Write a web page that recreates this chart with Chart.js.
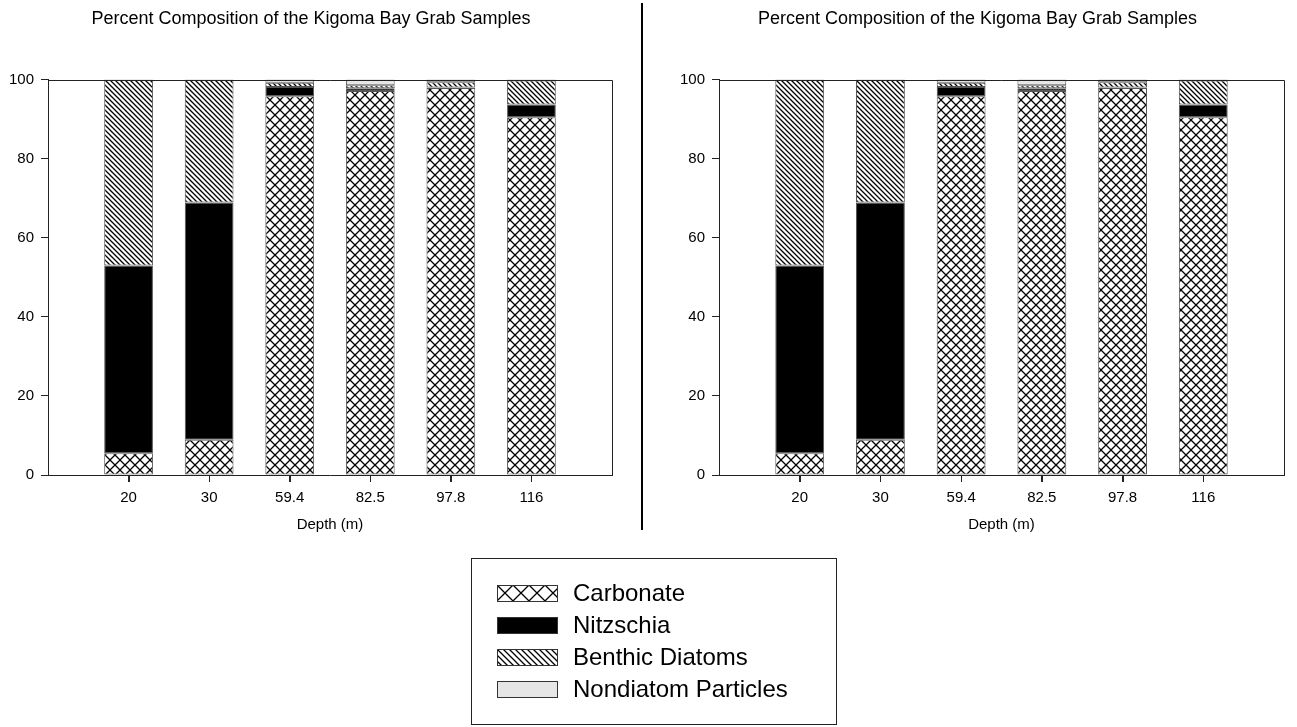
<!DOCTYPE html>
<html>
<head>
<meta charset="utf-8">
<script src="https://cdn.jsdelivr.net/npm/chart.js@4.4.1/dist/chart.umd.min.js"></script>
<style>
  body { margin: 0; background: #fff; width: 1297px; height: 727px; position: relative; overflow: hidden; font-family: 'Liberation Sans', Arial, sans-serif; }
  .panel { position: absolute; top: 0; }
  #divider { position: absolute; left: 641px; top: 3px; width: 2px; height: 527px; background: #000; }
  #legend { position: absolute; left: 471px; top: 558px; width: 364px; height: 165px; border: 1px solid #222; }
  .row { position: absolute; left: 25px; height: 24px; display: flex; align-items: center; }
  .row canvas { display: block; margin-right: 15px; }
  .row span { font-size: 24px; line-height: 24px; color: #000; white-space: nowrap; }
</style>
</head>
<body>
<canvas id="leftChart" class="panel" style="left:0px" width="622" height="540"></canvas>
<div id="divider"></div>
<canvas id="rightChart" class="panel" style="left:661px" width="633" height="540"></canvas>
<div id="legend"></div>

<script>
// Kigoma Bay grab samples, percent composition by depth
const depths = ['20', '30', '59.4', '82.5', '97.8', '116'];
const carbonate = [5.5, 8.9, 95.8, 97.1, 97.9, 90.5];
const nitzschia = [47.5, 60.0, 2.3, 0.7, 0.1, 3.2];
const benthic = [47.0, 31.1, 1.1, 0.8, 1.3, 6.1];
const nondiatom = [0, 0, 0.8, 1.4, 0.7, 0.2];
const seriesNames = ['Carbonate', 'Nitzschia', 'Benthic Diatoms', 'Nondiatom Particles'];
const yTicks = [0, 20, 40, 60, 80, 100];
const chartTitle = 'Percent Composition of the Kigoma Bay Grab Samples';

const family = "'Liberation Sans', Arial, sans-serif";

function makeTile(size, width, draw) {
    const c = document.createElement('canvas');
    c.width = c.height = size;
    const g = c.getContext('2d');
    g.fillStyle = '#fff';
    g.fillRect(0, 0, size, size);
    g.strokeStyle = '#000';
    g.lineWidth = width;
    g.beginPath();
    draw(g, size);
    g.stroke();
    return g.createPattern(c, 'repeat');
}

function cross(g, s) {
    g.moveTo(-1, -1); g.lineTo(s + 1, s + 1);
    g.moveTo(s + 1, -1); g.lineTo(-1, s + 1);
}
function hatch(g, s) {
    g.moveTo(-1, -1); g.lineTo(s + 1, s + 1);
    g.moveTo(-2, s - 2); g.lineTo(2, s + 2);
    g.moveTo(s - 2, -2); g.lineTo(s + 2, 2);
}

const fills = [makeTile(10, 1.3, cross), '#000', makeTile(5, 1.3, hatch), '#e6e6e6'];
const legendFills = [makeTile(16, 1.3, cross), '#000', makeTile(6, 1.3, hatch), '#e6e6e6'];

// top and right edges of the plot box, plus x tick marks under each bar
const frame = {
    id: 'frame',
    afterDraw(chart) {
        const { ctx, chartArea: a } = chart;
        const xs = chart.scales.x;
        ctx.save();
        ctx.strokeStyle = '#222';
        ctx.lineWidth = 1;
        ctx.beginPath();
        ctx.moveTo(a.left, Math.round(a.top) + 0.5);
        ctx.lineTo(Math.round(a.right) + 0.5, Math.round(a.top) + 0.5);
        ctx.lineTo(Math.round(a.right) + 0.5, a.bottom);
        xs.ticks.forEach((t, i) => {
            const px = Math.round(xs.getPixelForTick(i)) + 0.5;
            ctx.moveTo(px, a.bottom);
            ctx.lineTo(px, a.bottom + 7);
        });
        ctx.stroke();
        ctx.restore();
    }
};

function makeChart(id, axisWidth) {
    const series = [carbonate, nitzschia, benthic, nondiatom];
    const points = vals => vals.map((v, i) => ({ x: i + 1, y: v }));

    return new Chart(document.getElementById(id), {
        type: 'bar',
        data: {
            datasets: series.map((vals, i) => ({
                label: seriesNames[i],
                data: points(vals),
                backgroundColor: fills[i],
                borderColor: '#555',
                borderWidth: 1,
                borderSkipped: false,
                categoryPercentage: 0.605,
                barPercentage: 1
            }))
        },
        options: {
            responsive: false,
            animation: false,
            layout: { padding: { left: 10, right: 10, top: 0, bottom: 0 } },
            plugins: {
                legend: { display: false },
                tooltip: { enabled: false },
                title: {
                    display: true,
                    text: chartTitle,
                    color: '#000',
                    font: { family: family, size: 18, weight: 'normal' },
                    padding: { top: 8, bottom: 50 }
                }
            },
            scales: {
                x: {
                    type: 'linear',
                    stacked: true,
                    offset: false,
                    min: 0,
                    max: depths.length + 1,
                    afterBuildTicks: s => { s.ticks = depths.map((d, i) => ({ value: i + 1 })); },
                    grid: { offset: false, drawOnChartArea: false, tickLength: 7, color: '#222' },
                    border: { color: '#222' },
                    ticks: {
                        color: '#000',
                        font: { family: family, size: 15 },
                        padding: 7,
                        maxRotation: 0,
                        autoSkip: false,
                        callback: v => depths[v - 1]
                    },
                    title: {
                        display: true,
                        text: 'Depth (m)',
                        color: '#000',
                        font: { family: family, size: 15 },
                        padding: { top: 0, bottom: 6 }
                    },
                    afterFit: s => { s.height = 65; }
                },
                y: {
                    stacked: true,
                    min: 0,
                    max: 100,
                    afterBuildTicks: s => { s.ticks = yTicks.map(v => ({ value: v })); },
                    ticks: { color: '#000', font: { family: family, size: 15 }, padding: 7 },
                    grid: { drawOnChartArea: false, tickLength: 7, color: '#222' },
                    border: { color: '#222' },
                    afterFit: s => { s.width = axisWidth; }
                }
            }
        },
        plugins: [frame]
    });
}

function buildLegend() {
    const box = document.getElementById('legend');
    seriesNames.forEach((name, i) => {
        const row = document.createElement('div');
        row.className = 'row';
        row.style.top = (22 + i * 32) + 'px';
        const sw = document.createElement('canvas');
        sw.width = 61;
        sw.height = 17;
        const g = sw.getContext('2d');
        g.fillStyle = legendFills[i];
        g.fillRect(0, 0, 61, 17);
        g.strokeStyle = '#333';
        g.lineWidth = 1;
        g.strokeRect(0.5, 0.5, 60, 16);
        const label = document.createElement('span');
        label.textContent = name;
        row.appendChild(sw);
        row.appendChild(label);
        box.appendChild(row);
    });
}

makeChart('leftChart', 38);
makeChart('rightChart', 48);
buildLegend();
</script>
</body>
</html>
